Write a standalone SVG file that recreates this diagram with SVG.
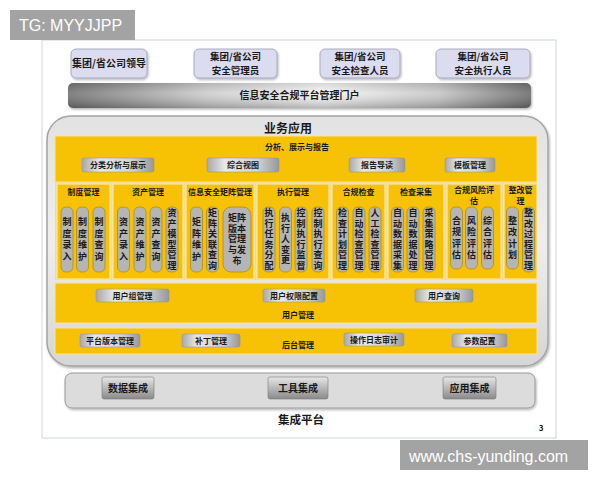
<svg xmlns="http://www.w3.org/2000/svg" width="600" height="480" viewBox="0 0 600 480">
<defs>
<linearGradient id="portalG" x1="0" x2="1" y1="0" y2="0">
<stop offset="0" stop-color="#747474"/>
<stop offset="0.3" stop-color="#cdcdcd"/>
<stop offset="0.55" stop-color="#f6f6f6"/>
<stop offset="0.8" stop-color="#c6c6c6"/>
<stop offset="1" stop-color="#6e6e6e"/>
</linearGradient>
<linearGradient id="portalV" x1="0" x2="0" y1="0" y2="1">
<stop offset="0" stop-color="#000" stop-opacity="0.12"/>
<stop offset="0.4" stop-color="#fff" stop-opacity="0.1"/>
<stop offset="1" stop-color="#000" stop-opacity="0.25"/>
</linearGradient>
<linearGradient id="btnG" x1="0" x2="1" y1="0" y2="0">
<stop offset="0" stop-color="#a8a8a8"/>
<stop offset="0.25" stop-color="#e8e8e8"/>
<stop offset="0.7" stop-color="#d2d2d2"/>
<stop offset="1" stop-color="#989898"/>
</linearGradient>
<linearGradient id="intBtn" x1="0" x2="0" y1="0" y2="1">
<stop offset="0" stop-color="#e6e6e6"/>
<stop offset="1" stop-color="#8a8a8a"/>
</linearGradient>
<linearGradient id="panelG" x1="0" y1="0" x2="0" y2="1">
<stop offset="0" stop-color="#e2e2e2"/>
<stop offset="0.5" stop-color="#eeeeee"/>
<stop offset="1" stop-color="#d6d6d6"/>
</linearGradient>
<filter id="sh" x="-5%" y="-10%" width="110%" height="130%">
<feDropShadow dx="1" dy="1.5" stdDeviation="1" flood-color="#000" flood-opacity="0.3"/>
</filter>
</defs>
<style>
.cjk{font-family:"Noto Sans CJK SC","Noto Sans CJK JP",sans-serif;font-weight:700;fill:#1a1a1a;text-anchor:middle}
.s8{font-size:8px}
.s9{font-size:9px}
.s10{font-size:10px}
.s95{font-size:9.5px}
.role{fill:#dcdcf1;stroke:#9c9cb4;stroke-width:0.8}
.yel{fill:#f7c204;stroke:#f6e3a0;stroke-width:1}
.col{fill:#f7c204;stroke:#f8e6ac;stroke-width:1.2}
.btn{fill:url(#btnG);stroke:#8c8c8c;stroke-width:0.5}
.pill{fill:#b5b5b5;stroke:#b38d12;stroke-width:0.8}
.ib{fill:url(#intBtn);stroke:#7a7a7a;stroke-width:0.6}
.wm{font-family:"Liberation Sans",Arial,sans-serif;font-size:16px;fill:#ffffff}
</style>
<rect x="42" y="40" width="514" height="398" fill="#ffffff" stroke="#cfd6d6" stroke-width="1"/>
<g id="role1"><rect class="role" x="71" y="49" width="76" height="29" rx="5" filter="url(#sh)"/><text class="cjk s10" x="109" y="67">集团/省公司领导</text></g>
<g id="role2"><rect class="role" x="194" y="49" width="83" height="29" rx="5" filter="url(#sh)"/><text class="cjk s95"><tspan x="235.5" y="60">集团/省公司</tspan><tspan x="235.5" y="73.9">安全管理员</tspan></text></g>
<g id="role3"><rect class="role" x="320" y="49" width="80" height="29" rx="5" filter="url(#sh)"/><text class="cjk s95"><tspan x="360" y="60">集团/省公司</tspan><tspan x="360" y="73.9">安全检查人员</tspan></text></g>
<g id="role4"><rect class="role" x="436" y="49" width="94" height="29" rx="5" filter="url(#sh)"/><text class="cjk s95"><tspan x="483" y="60">集团/省公司</tspan><tspan x="483" y="73.9">安全执行人员</tspan></text></g>
<g id="portal"><rect x="68" y="83" width="463" height="25" rx="5" fill="url(#portalG)" filter="url(#sh)"/><rect x="68" y="83" width="463" height="25" rx="5" fill="url(#portalV)"/><text class="cjk s10" x="299.5" y="99">信息安全合规平台管理门户</text></g>
<g id="business">
<rect x="47" y="116" width="501" height="250" rx="24" fill="url(#panelG)" stroke="#a4a4a4" stroke-width="1.5" filter="url(#sh)"/>
<text class="cjk" style="font-size:12px" x="288" y="133">业务应用</text>
<rect x="55" y="182" width="482" height="98" fill="#f1dc90"/>
</g>
<g id="analysis">
<rect class="yel" x="55" y="136" width="482" height="46"/>
<text class="cjk s8" x="297" y="150">分析、展示与报告</text>
<rect class="btn" x="82" y="158" width="72" height="14" rx="2"/><text class="cjk s8" x="118" y="168">分类分析与展示</text>
<rect class="btn" x="207" y="158" width="72" height="14" rx="2"/><text class="cjk s8" x="243" y="168">综合视图</text>
<rect class="btn" x="349" y="158" width="56" height="14" rx="2"/><text class="cjk s8" x="377" y="168">报告导读</text>
<rect class="btn" x="445" y="158" width="50" height="14" rx="2"/><text class="cjk s8" x="470" y="168">模板管理</text>
</g>
<g id="col1">
<rect class="col" x="57" y="184" width="53" height="95"/>
<text class="cjk s8" x="83.5" y="195">制度管理</text>
<rect class="pill" x="61" y="207" width="12" height="65" rx="5"/><text class="cjk s9" x="67 67 67 67" y="225 236.5 248 259.5">制度录入</text>
<rect class="pill" x="76.5" y="207" width="12" height="65" rx="5"/><text class="cjk s9" x="82.5 82.5 82.5 82.5" y="225 236.5 248 259.5">制度维护</text>
<rect class="pill" x="93" y="207" width="12" height="65" rx="5"/><text class="cjk s9" x="99 99 99 99" y="225 236.5 248 259.5">制度查询</text>
</g>
<g id="col2">
<rect class="col" x="113" y="184" width="70" height="95"/>
<text class="cjk s8" x="148" y="195">资产管理</text>
<rect class="pill" x="117.5" y="207" width="12" height="65" rx="5"/><text class="cjk s9" x="123.5 123.5 123.5 123.5" y="225 236.5 248 259.5">资产录入</text>
<rect class="pill" x="134" y="207" width="12" height="65" rx="5"/><text class="cjk s9" x="140 140 140 140" y="225 236.5 248 259.5">资产维护</text>
<rect class="pill" x="150" y="207" width="12" height="65" rx="5"/><text class="cjk s9" x="156 156 156 156" y="225 236.5 248 259.5">资产查询</text>
<rect class="pill" x="166" y="207" width="12" height="65" rx="5"/><text class="cjk s9" x="172 172 172 172 172 172" y="216 226.5 237 247.5 258 268.5">资产模型管理</text>
</g>
<g id="col3">
<rect class="col" x="186" y="184" width="68" height="95"/>
<text class="cjk s8" x="220" y="195">信息安全矩阵管理</text>
<rect class="pill" x="190.5" y="207" width="12" height="65" rx="5"/><text class="cjk s9" x="196.5 196.5 196.5 196.5" y="225 236.5 248 259.5">矩阵维护</text>
<rect class="pill" x="206.5" y="207" width="12" height="65" rx="5"/><text class="cjk s9" x="212.5 212.5 212.5 212.5 212.5 212.5" y="216 226.5 237 247.5 258 268.5">矩阵关联查询</text>
<rect class="pill" x="223" y="207" width="28" height="65" rx="8"/>
<text class="cjk s9" x="232.5 241.5 232.5 241.5 232.5 241.5 232.5 241.5 237" y="221 221 231.5 231.5 242 242 253 253 264">矩阵版本管理与发布</text>
</g>
<g id="col4">
<rect class="col" x="257" y="184" width="72" height="95"/>
<text class="cjk s8" x="293" y="195">执行管理</text>
<rect class="pill" x="263" y="207" width="12" height="65" rx="5"/><text class="cjk s9" x="269 269 269 269 269 269" y="216 226.5 237 247.5 258 268.5">执行任务分配</text>
<rect class="pill" x="279.5" y="207" width="12" height="65" rx="5"/><text class="cjk s9" x="285.5 285.5 285.5 285.5 285.5" y="221.2 231.7 242.2 252.7 263.2">执行人变更</text>
<rect class="pill" x="295" y="207" width="12" height="65" rx="5"/><text class="cjk s9" x="301 301 301 301 301 301" y="216 226.5 237 247.5 258 268.5">控制执行监督</text>
<rect class="pill" x="312" y="207" width="12" height="65" rx="5"/><text class="cjk s9" x="318 318 318 318 318 318" y="216 226.5 237 247.5 258 268.5">控制执行查询</text>
</g>
<g id="col5">
<rect class="col" x="332" y="184" width="53" height="95"/>
<text class="cjk s8" x="358.5" y="195">合规检查</text>
<rect class="pill" x="336.5" y="207" width="12" height="65" rx="5"/><text class="cjk s9" x="342.5 342.5 342.5 342.5 342.5 342.5" y="216 226.5 237 247.5 258 268.5">检查计划管理</text>
<rect class="pill" x="353" y="207" width="12" height="65" rx="5"/><text class="cjk s9" x="359 359 359 359 359 359" y="216 226.5 237 247.5 258 268.5">自动检查管理</text>
<rect class="pill" x="369" y="207" width="12" height="65" rx="5"/><text class="cjk s9" x="375 375 375 375 375 375" y="216 226.5 237 247.5 258 268.5">人工检查管理</text>
</g>
<g id="col6">
<rect class="col" x="388" y="184" width="56" height="95"/>
<text class="cjk s8" x="416" y="195">检查采集</text>
<rect class="pill" x="391.5" y="207" width="12" height="65" rx="5"/><text class="cjk s9" x="397.5 397.5 397.5 397.5 397.5 397.5" y="216 226.5 237 247.5 258 268.5">自动数据采集</text>
<rect class="pill" x="407" y="207" width="12" height="65" rx="5"/><text class="cjk s9" x="413 413 413 413 413 413" y="216 226.5 237 247.5 258 268.5">自动数据处理</text>
<rect class="pill" x="423" y="207" width="12" height="65" rx="5"/><text class="cjk s9" x="429 429 429 429 429 429" y="216 226.5 237 247.5 258 268.5">采集策略管理</text>
</g>
<g id="col7">
<rect class="col" x="447" y="184" width="54" height="95"/>
<text class="cjk s8"><tspan x="474" y="193">合规风险评</tspan><tspan x="474" y="204">估</tspan></text>
<rect class="pill" x="450.5" y="207" width="12" height="62" rx="5"/><text class="cjk s9" x="456.5 456.5 456.5 456.5" y="223.5 235 246.5 258">合规评估</text>
<rect class="pill" x="465.5" y="207" width="12" height="62" rx="5"/><text class="cjk s9" x="471.5 471.5 471.5 471.5" y="223.5 235 246.5 258">风险评估</text>
<rect class="pill" x="481.5" y="207" width="12" height="62" rx="5"/><text class="cjk s9" x="487.5 487.5 487.5 487.5" y="223.5 235 246.5 258">综合评估</text>
</g>
<g id="col8">
<rect class="col" x="504" y="184" width="33" height="95"/>
<text class="cjk s8"><tspan x="520.5" y="193">整改管</tspan><tspan x="520.5" y="204">理</tspan></text>
<rect class="pill" x="506.5" y="207" width="12" height="62" rx="5"/><text class="cjk s9" x="512.5 512.5 512.5 512.5" y="223.5 235 246.5 258">整改计划</text>
<rect class="pill" x="522.5" y="207" width="12" height="65" rx="5"/><text class="cjk s9" x="528.5 528.5 528.5 528.5 528.5 528.5" y="216 226.5 237 247.5 258 268.5">整改过程管理</text>
</g>
<g id="user">
<rect class="yel" x="55" y="283" width="482" height="40"/>
<rect class="btn" x="96" y="289" width="73" height="13" rx="2"/><text class="cjk s8" x="132.5" y="298.5">用户组管理</text>
<rect class="btn" x="263" y="289" width="62" height="13" rx="2"/><text class="cjk s8" x="294" y="298.5">用户权限配置</text>
<rect class="btn" x="415" y="289" width="58" height="13" rx="2"/><text class="cjk s8" x="444" y="298.5">用户查询</text>
<text class="cjk s8" x="298" y="318">用户管理</text>
</g>
<g id="backend">
<rect class="yel" x="55" y="328" width="482" height="26"/>
<rect class="btn" x="80" y="334" width="60" height="13" rx="2"/><text class="cjk s8" x="110" y="343.5">平台版本管理</text>
<rect class="btn" x="182" y="334" width="58" height="13" rx="2"/><text class="cjk s8" x="211" y="343.5">补丁管理</text>
<text class="cjk s8" x="298" y="348">后台管理</text>
<rect class="btn" x="344" y="333" width="60" height="13" rx="2"/><text class="cjk s8" x="374" y="342.5">操作日志审计</text>
<rect class="btn" x="452" y="334" width="55" height="13" rx="2"/><text class="cjk s8" x="479.5" y="343.5">参数配置</text>
</g>
<g id="integration">
<rect x="65" y="373" width="470" height="35" rx="7" fill="#dcdcdc" stroke="#9a9a9a" stroke-width="1" filter="url(#sh)"/>
<rect class="ib" x="102" y="377" width="52" height="22" rx="2"/><text class="cjk s10" x="128" y="392">数据集成</text>
<rect class="ib" x="268" y="377" width="60" height="22" rx="2"/><text class="cjk s10" x="298" y="392">工具集成</text>
<rect class="ib" x="443" y="377" width="53" height="22" rx="2"/><text class="cjk s10" x="469.5" y="392">应用集成</text>
<text class="cjk" style="font-size:11.5px" x="301" y="424">集成平台</text>
</g>
<text class="cjk" style="font-size:8px" x="541" y="431">3</text>
<g id="connectors"/>
<g id="wm1"><rect x="10" y="10" width="125" height="30" fill="#a3a3a3"/><text class="wm" x="19" y="31">TG: MYYJJPP</text></g>
<g id="wm2"><rect x="400" y="440" width="188" height="30" fill="#a3a3a3"/><text class="wm" x="409" y="461.5">www.chs-yunding.com</text></g>
</svg>
